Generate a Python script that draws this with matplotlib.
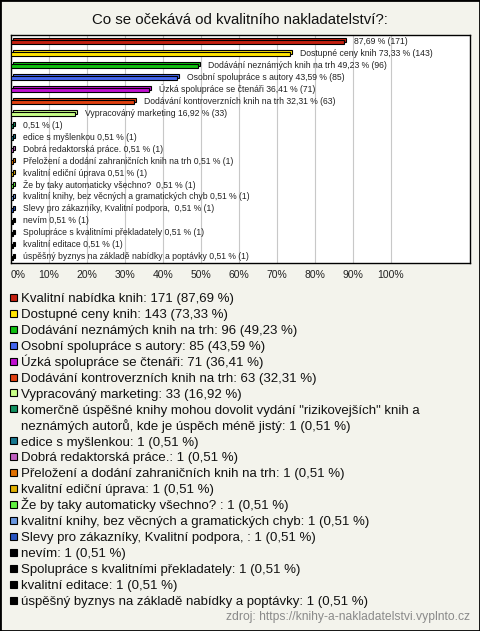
import matplotlib
matplotlib.use('Agg')
import matplotlib.pyplot as plt
from matplotlib.patches import Rectangle

plt.rcParams['font.family'] = ['Liberation Sans', 'DejaVu Sans']

# data
names = ['Kvalitní nabídka knih', 'Dostupné ceny knih', 'Dodávání neznámých knih na trh',
         'Osobní spolupráce s autory', 'Úzká spolupráce se čtenáři',
         'Dodávání kontroverzních knih na trh', 'Vypracováný marketing',
         'komerčně úspěšné knihy mohou dovolit vydání "rizikovejších" knih a\nneznámých autorů, kde je úspěch méně jistý',
         'edice s myšlenkou', 'Dobrá redaktorská práce.',
         'Přeložení a dodání zahraničních knih na trh', 'kvalitní ediční úprava',
         'Že by taky automaticky všechno? ', 'kvalitní knihy, bez věcných a gramatických chyb',
         'Slevy pro zákazníky, Kvalitní podpora, ', 'nevím',
         'Spolupráce s kvalitními překladately', 'kvalitní editace',
         'úspěšný byznys na základě nabídky a poptávky']
# names shown next to the bars (long ones left out like in the original)
bar_names = ['', 'Dostupné ceny knih', 'Dodávání neznámých knih na trh',
             'Osobní spolupráce s autory', 'Úzká spolupráce se čtenáři',
             'Dodávání kontroverzních knih na trh', 'Vypracováný marketing', '',
             'edice s myšlenkou', 'Dobrá redaktorská práce.',
             'Přeložení a dodání zahraničních knih na trh', 'kvalitní ediční úprava',
             'Že by taky automaticky všechno? ', 'kvalitní knihy, bez věcných a gramatických chyb',
             'Slevy pro zákazníky, Kvalitní podpora, ', 'nevím',
             'Spolupráce s kvalitními překladately', 'kvalitní editace',
             'úspěšný byznys na základě nabídky a poptávky']
counts = [171, 143, 96, 85, 71, 63, 33, 1, 1, 1, 1, 1, 1, 1, 1, 1, 1, 1, 1]
percents = [87.69, 73.33, 49.23, 43.59, 36.41, 32.31, 16.92, 0.51, 0.51, 0.51,
            0.51, 0.51, 0.51, 0.51, 0.51, 0.51, 0.51, 0.51, 0.51]
colors = ['#C42010', '#FFE400', '#10C010', '#4466EE', '#C010D0', '#E04010', '#C8FF88',
          '#109060', '#187890', '#C060C0', '#E07000', '#E0B000', '#60F040', '#6A98E0',
          '#2854C0', '#000000', '#000000', '#000000', '#000000']
ticks = [0, 10, 20, 30, 40, 50, 60, 70, 80, 90, 100]

W, H = 480, 631
bg = '#F3F3EC'
fig = plt.figure(figsize=(W / 100, H / 100), dpi=100, facecolor=bg)

# plot box in pixels
x0, x1, y0, y1 = 11, 470, 35, 263
ax = fig.add_axes([x0 / W, 1 - y1 / H, (x1 - x0) / W, (y1 - y0) / H])
ax.set_facecolor('white')
xmax = (x1 - x0) / 3.8
ax.set_xlim(0, xmax)
n = len(percents)
ax.set_ylim(n - 0.5, -0.5)

px = xmax / (x1 - x0)        # one pixel in x data units
py = n / (y1 - y0)           # one pixel in y data units

for t in ticks[1:]:
    ax.axvline(t, color='#C8C8C8', lw=0.8, zorder=0)

h = 4.5 * py
dx, dy = 2 * px, 2 * py
for i, (p, c) in enumerate(zip(percents, colors)):
    yc = i + 1 * py
    back = Rectangle((dx, yc - h / 2 - dy), p, h, facecolor=c, edgecolor='black', lw=0.8, zorder=2)
    front = Rectangle((0, yc - h / 2), p, h, facecolor=c, edgecolor='black', lw=0.8, zorder=3)
    ax.add_patch(back)
    ax.add_patch(front)
    lab = (bar_names[i] + ' ' if bar_names[i] else '') + f'{p:.2f}'.replace('.', ',') + f' % ({counts[i]})'
    ax.text(p + 10 * px, i, lab, fontsize=6.2, va='center', ha='left', color='#222222', zorder=4)

ax.set_yticks([])
ax.set_xticks(ticks)
ax.set_xticklabels([f'{t}%' for t in ticks], fontsize=7.5, color='#222222')
ax.get_xticklabels()[0].set_ha('left')
ax.tick_params(axis='x', length=0, pad=5)
for s in ax.spines.values():
    s.set_color('black')
    s.set_linewidth(1.0)

fig.text(0.5, 1 - 24.5 / H, 'Co se očekává od kvalitního nakladatelství?:', ha='center', va='baseline',
         fontsize=10.8, color='#111111')

# legend
ly = 297.3
step = 15.95
for i in range(n):
    fig.patches.append(Rectangle((9.5 / W, 1 - (ly + 3.5) / H), 7 / W, 7 / H, transform=fig.transFigure,
                                 facecolor=colors[i], edgecolor='black', lw=0.8))
    pct = f'{percents[i]:.2f}'.replace('.', ',')
    txt = f'{names[i]}: {counts[i]} ({pct} %)'
    for line in txt.split('\n'):
        fig.text(21 / W, 1 - (ly + 4.7) / H, line, ha='left', va='baseline', fontsize=9.5,
                 color='#111111')
        ly += step

fig.text(470 / W, 1 - (616 + 4) / H, 'zdroj: https://knihy-a-nakladatelstvi.vyplnto.cz', ha='right',
         va='baseline', fontsize=8.7, color='#8A8A8A')

fig.patches.append(Rectangle((0, 0), 1, 1, transform=fig.transFigure, fill=False,
                             edgecolor='black', lw=2))

fig.savefig('out.png', dpi=100, facecolor=bg)
